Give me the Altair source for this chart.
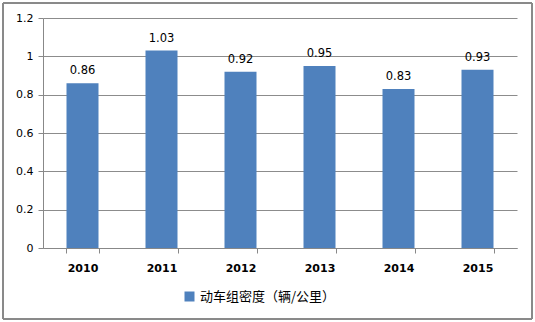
import altair as alt
import pandas as pd

years = ["2010", "2011", "2012", "2013", "2014", "2015"]
values = [0.86, 1.03, 0.92, 0.95, 0.83, 0.93]
series = "动车组密度（辆/公里）"
y_ticks = [0, 0.2, 0.4, 0.6, 0.8, 1.0, 1.2]

df = pd.DataFrame({"year": years, "value": values, "series": [series] * len(years)})

W, H = 474, 230
FONT = "DejaVu Sans"

x_enc = alt.X("year:N", title=None, sort=years,
              scale=alt.Scale(paddingInner=0.58, paddingOuter=0.29),
              axis=alt.Axis(labelAngle=0, labelFontWeight="bold", labelFont=FONT,
                            labelFontSize=11, labelColor="#000", labelPadding=9,
                            domainColor="#888", tickColor="#888", tickBand="extent",
                            tickSize=5, grid=False))
y_enc = alt.Y("value:Q", title=None,
              scale=alt.Scale(domain=[0, 1.2], nice=False),
              axis=alt.Axis(values=y_ticks, format="~g", labelOverlap=False,
                            labelFont=FONT, labelFontSize=11, labelColor="#000",
                            domainColor="#888", tickColor="#888", tickSize=5,
                            gridColor="#8c8c8c", gridWidth=1, labelPadding=5))

base = alt.Chart(df)

bars = base.mark_bar(size=32, color="#4F81BD").encode(
    x=x_enc,
    y=y_enc,
    color=alt.Color("series:N", scale=alt.Scale(range=["#4F81BD"]),
                    legend=alt.Legend(title=None, orient="none", legendX=140, legendY=272,
                                      symbolType="square", symbolSize=100,
                                      labelFont="Noto Sans CJK SC", labelFontSize=13,
                                      labelColor="#000", symbolStrokeWidth=0)),
)

labels = base.mark_text(dy=-12, font=FONT, fontSize=11.5, color="#000").encode(
    x=x_enc,
    y=y_enc,
    text=alt.Text("value:Q", format=".2f"),
)

border = alt.Chart(df).mark_rect(fill=None, stroke="#888", strokeWidth=1, clip=False).encode(
    x=alt.value(-40), x2=alt.value(489), y=alt.value(-15), y2=alt.value(301)
)

chart = alt.layer(border, bars, labels).properties(
    width=W, height=H,
    autosize=alt.AutoSizeParams(type="none"),
    padding={"left": 43, "top": 18, "right": 18, "bottom": 74},
    background="white",
).configure_view(stroke=None)

chart.save("out.html", embed_options={"renderer": "svg", "actions": False})
